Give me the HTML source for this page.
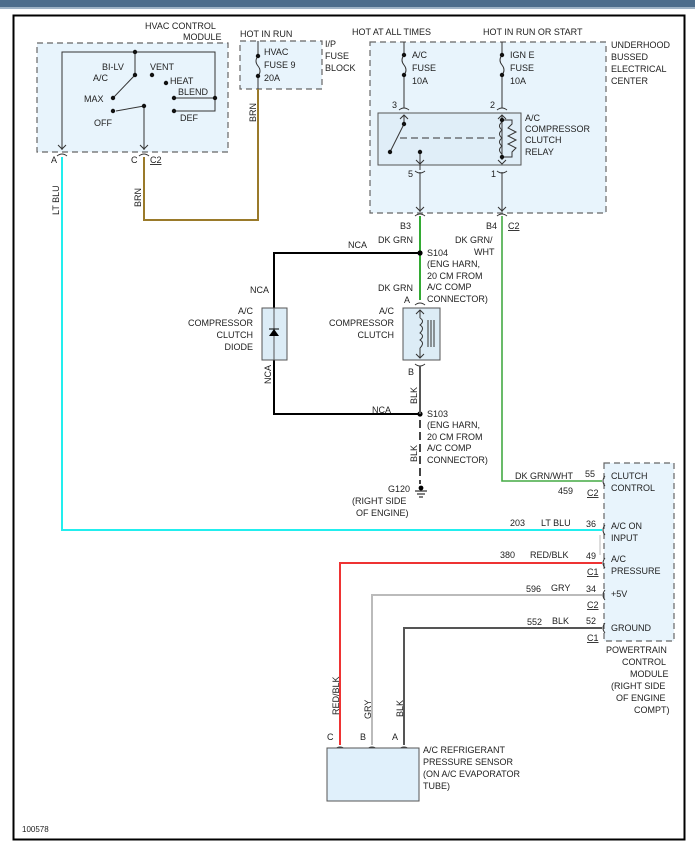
<!DOCTYPE html>
<html><head><style>
body{margin:0;background:#fff}
svg{display:block;font-family:"Liberation Sans",sans-serif;font-size:9px;fill:#222}
text{fill:#222}
</style></head><body>
<svg width="695" height="855" viewBox="0 0 695 855" xmlns="http://www.w3.org/2000/svg">
<rect x="0" y="0" width="695" height="7" fill="#4d6d8c"/>
<rect x="0" y="7" width="695" height="2" fill="#9fb3c6"/>
<rect x="13.5" y="15.5" width="671" height="824" fill="none" stroke="#000" stroke-width="2"/>
<g stroke-dasharray="6,4" stroke="#666" stroke-width="1.2" fill="#e8f4fc">
<rect x="37" y="43" width="191" height="109"/>
<rect x="240" y="41" width="82" height="48"/>
<rect x="370" y="42" width="236" height="171"/>
<rect x="604" y="463" width="70" height="178"/>
</g>
<g stroke="#333" stroke-width="1" fill="none">
<polyline points="62,150 62,52 215,52 215,111 174,111"/>
<line x1="174" y1="98" x2="215" y2="98"/>
<line x1="135" y1="52" x2="135" y2="75"/>
<line x1="135" y1="75" x2="113" y2="98"/>
<line x1="144" y1="106" x2="116" y2="111"/>
<line x1="144" y1="106" x2="144" y2="150"/>
<polyline points="58,145 62,149 66,145"/><polyline points="140,145 144,149 148,145"/>
<path d="M57,156 q5,-4 10,0 M139,156 q5,-4 10,0"/>
</g>
<g fill="#111"><circle cx="135" cy="52" r="2.2"/><circle cx="135" cy="75" r="2.2"/><circle cx="113" cy="98" r="2.2"/><circle cx="152" cy="75" r="2.2"/><circle cx="166" cy="83" r="2.2"/><circle cx="174" cy="98" r="2.2"/><circle cx="174" cy="111" r="2.2"/><circle cx="215" cy="98" r="2.2"/><circle cx="113" cy="111" r="2.2"/><circle cx="144" cy="106" r="2.2"/></g>
<text x="145" y="29">HVAC CONTROL</text><text x="183" y="40">MODULE</text>
<text x="102" y="70">BI-LV</text><text x="93" y="81">A/C</text><text x="84" y="102">MAX</text><text x="150" y="70">VENT</text><text x="170" y="84">HEAT</text><text x="178" y="95">BLEND</text><text x="180" y="121">DEF</text><text x="94" y="126">OFF</text>
<text x="51" y="163">A</text><text x="131" y="163">C</text><text x="150" y="163" text-decoration="underline">C2</text>
<polyline points="62,157 62,530 602,530" fill="none" stroke="#2ee" stroke-width="2"/>
<polyline points="144,157 144,220 258,220 258,89" fill="none" stroke="#9a7a2a" stroke-width="2"/>
<text transform="translate(59,215) rotate(-90)">LT BLU</text>
<text transform="translate(141,207) rotate(-90)">BRN</text>
<text transform="translate(256,122) rotate(-90)">BRN</text>
<g stroke="#333" fill="none"><line x1="258" y1="41" x2="258" y2="56"/><path d="M258,56 q-4,5 0,10 q4,5 0,10"/><line x1="258" y1="76" x2="258" y2="89"/></g>
<circle cx="258" cy="56" r="2.2" fill="#111"/><circle cx="258" cy="76" r="2.2" fill="#111"/>
<text x="240" y="37">HOT IN RUN</text><text x="264" y="55">HVAC</text><text x="264" y="68">FUSE 9</text><text x="264" y="81">20A</text>
<text x="325" y="47">I/P</text><text x="325" y="59">FUSE</text><text x="325" y="71">BLOCK</text>
<text x="352" y="35">HOT AT ALL TIMES</text><text x="483" y="35">HOT IN RUN OR START</text>
<text x="611" y="48">UNDERHOOD</text><text x="611" y="60">BUSSED</text><text x="611" y="72">ELECTRICAL</text><text x="611" y="84">CENTER</text>
<g stroke="#333" fill="none">
<line x1="404" y1="42" x2="404" y2="55"/><path d="M404,55 q-4,5 0,10 q4,5 0,10"/><line x1="404" y1="75" x2="404" y2="108"/>
<line x1="502" y1="42" x2="502" y2="55"/><path d="M502,55 q-4,5 0,10 q4,5 0,10"/><line x1="502" y1="75" x2="502" y2="108"/>
<path d="M399,110 q5,-4 10,0 M497,110 q5,-4 10,0"/>
</g>
<g fill="#111"><circle cx="404" cy="55" r="2.2"/><circle cx="404" cy="75" r="2.2"/><circle cx="502" cy="55" r="2.2"/><circle cx="502" cy="75" r="2.2"/></g>
<text x="412" y="58">A/C</text><text x="412" y="71">FUSE</text><text x="412" y="84">10A</text>
<text x="510" y="58">IGN E</text><text x="510" y="71">FUSE</text><text x="510" y="84">10A</text>
<text x="392" y="108">3</text><text x="490" y="108">2</text>
<rect x="378" y="113" width="143" height="52" fill="#e0eef8" stroke="#555"/>
<g stroke="#333" fill="none">
<polyline points="400,119 404,115 408,119"/><line x1="404" y1="115" x2="404" y2="124"/><line x1="404" y1="124" x2="390" y2="152"/>
<line x1="400" y1="138" x2="498" y2="138" stroke-dasharray="7,4"/>
<line x1="420" y1="152" x2="420" y2="170"/><polyline points="416,160 420,164 424,160"/>
<polyline points="498,119 502,115 506,119"/><line x1="502" y1="115" x2="502" y2="160"/>
<path d="M502,122 q-5,4 0,8 q-5,4 0,8 q-5,4 0,8 q-5,4 0,8"/>
<polyline points="502,120 512,120 512,124 508,128 516,132 508,136 516,140 508,144 516,148 512,152 512,157 502,157"/>
<polyline points="498,160 502,164 506,160"/>
<path d="M415,171 q5,4 10,0 M497,171 q5,4 10,0"/>
<line x1="420" y1="172" x2="420" y2="212"/><line x1="502" y1="172" x2="502" y2="212"/>
<polyline points="416,207 420,211 424,207"/><polyline points="498,207 502,211 506,207"/>
<path d="M415,216 q5,-4 10,0 M497,216 q5,-4 10,0"/>
</g>
<g fill="#111"><circle cx="404" cy="124" r="2.2"/><circle cx="390" cy="152" r="2.2"/><circle cx="420" cy="152" r="2.2"/><circle cx="502" cy="120" r="2.2"/><circle cx="502" cy="157" r="2.2"/></g>
<text x="525" y="121">A/C</text><text x="525" y="132">COMPRESSOR</text><text x="525" y="143">CLUTCH</text><text x="525" y="155">RELAY</text>
<text x="408" y="177">5</text><text x="491" y="177">1</text>
<text x="400" y="229">B3</text><text x="486" y="229">B4</text><text x="508" y="229" text-decoration="underline">C2</text>
<line x1="420" y1="216" x2="420" y2="300" stroke="#3a3" stroke-width="2"/>
<polyline points="502,216 502,481 602,481" fill="none" stroke="#4a4" stroke-width="1.6"/>
<text x="378" y="243">DK GRN</text><text x="455" y="243">DK GRN/</text><text x="474" y="255">WHT</text>
<polyline points="420,253 274,253 274,414 420,414" fill="none" stroke="#000" stroke-width="2"/>
<circle cx="420" cy="253" r="2.6" fill="#000"/><circle cx="420" cy="414" r="2.6" fill="#000"/>
<rect x="262" y="308" width="25" height="52" fill="#dcecf6" stroke="#555"/>
<line x1="274" y1="308" x2="274" y2="360" stroke="#555"/>
<polygon points="269,336 279,336 274,329" fill="#000"/><line x1="269" y1="329" x2="279" y2="329" stroke="#000"/>
<text x="348" y="248">NCA</text><text x="250" y="293">NCA</text><text x="372" y="413">NCA</text>
<text transform="translate(271,384) rotate(-90)">NCA</text>
<text x="427" y="256">S104</text><text x="427" y="267">(ENG HARN,</text><text x="427" y="279">20 CM FROM</text><text x="427" y="290">A/C COMP</text><text x="427" y="302">CONNECTOR)</text>
<text x="378" y="291">DK GRN</text><text x="404" y="303">A</text>
<text x="253" y="314" text-anchor="end">A/C</text><text x="253" y="326" text-anchor="end">COMPRESSOR</text><text x="253" y="338" text-anchor="end">CLUTCH</text><text x="253" y="350" text-anchor="end">DIODE</text>
<text x="394" y="314" text-anchor="end">A/C</text><text x="394" y="326" text-anchor="end">COMPRESSOR</text><text x="394" y="338" text-anchor="end">CLUTCH</text>
<rect x="403" y="308" width="37" height="52" fill="#dcecf6" stroke="#555"/>
<g stroke="#333" fill="none">
<path d="M415,305 q5,-4 10,0 M415,364 q5,4 10,0"/>
<polyline points="416,314 420,310 424,314"/><polyline points="416,354 420,358 424,354"/>
<line x1="420" y1="310" x2="420" y2="318"/><line x1="420" y1="348" x2="420" y2="358"/>
<path d="M420,318 q5,3 0,7 q5,3 0,8 q5,3 0,7 q5,3 0,8"/>
<line x1="428" y1="320" x2="428" y2="347"/><line x1="431" y1="320" x2="431" y2="347"/><line x1="434" y1="320" x2="434" y2="347"/>
</g>
<line x1="420" y1="366" x2="420" y2="414" stroke="#555" stroke-width="2"/>
<line x1="420" y1="420" x2="420" y2="484" stroke="#444" stroke-width="2" stroke-dasharray="8,4"/>
<text x="408" y="375">B</text>
<text transform="translate(417,404) rotate(-90)">BLK</text>
<text transform="translate(417,462) rotate(-90)">BLK</text>
<text x="427" y="417">S103</text><text x="427" y="428">(ENG HARN,</text><text x="427" y="440">20 CM FROM</text><text x="427" y="451">A/C COMP</text><text x="427" y="463">CONNECTOR)</text>
<circle cx="421" cy="488" r="2.4" fill="#000"/><g stroke="#000"><line x1="415" y1="491" x2="427" y2="491"/><line x1="417" y1="494" x2="425" y2="494"/><line x1="419" y1="497" x2="423" y2="497"/></g>
<text x="388" y="492">G120</text><text x="352" y="504">(RIGHT SIDE</text><text x="356" y="516">OF ENGINE)</text>
<text x="515" y="479">DK GRN/WHT</text><text x="585" y="477">55</text><text x="558" y="494">459</text><text x="587" y="496" text-decoration="underline">C2</text>
<text x="611" y="479">CLUTCH</text><text x="611" y="491">CONTROL</text>
<text x="510" y="526">203</text><text x="541" y="526">LT BLU</text><text x="586" y="527">36</text>
<text x="611" y="529">A/C ON</text><text x="611" y="541">INPUT</text>
<line x1="600" y1="535" x2="600" y2="555" stroke="#bbb"/>
<polyline points="340,745 340,563 602,563" fill="none" stroke="#e33" stroke-width="2"/>
<polyline points="372,745 372,595 602,595" fill="none" stroke="#bbb" stroke-width="2"/>
<polyline points="404,745 404,628 602,628" fill="none" stroke="#555" stroke-width="2"/>
<text x="500" y="558">380</text><text x="530" y="558">RED/BLK</text><text x="586" y="559">49</text><text x="587" y="575" text-decoration="underline">C1</text>
<text x="611" y="562">A/C</text><text x="611" y="574">PRESSURE</text>
<text x="526" y="592">596</text><text x="551" y="591">GRY</text><text x="586" y="592">34</text><text x="587" y="608" text-decoration="underline">C2</text><text x="611" y="597">+5V</text>
<text x="527" y="625">552</text><text x="552" y="624">BLK</text><text x="586" y="624">52</text><text x="587" y="641" text-decoration="underline">C1</text><text x="611" y="631">GROUND</text>
<g stroke="#333" fill="none"><path d="M605,476 q-4,5 0,10 M605,525 q-4,5 0,10 M605,558 q-4,5 0,10 M605,590 q-4,5 0,10 M605,623 q-4,5 0,10"/></g>
<text x="606" y="653">POWERTRAIN</text><text x="622" y="665">CONTROL</text><text x="630" y="677">MODULE</text><text x="611" y="689">(RIGHT SIDE</text><text x="616" y="701">OF ENGINE</text><text x="634" y="713">COMPT)</text>
<text transform="translate(339,715) rotate(-90)">RED/BLK</text>
<text transform="translate(371,719) rotate(-90)">GRY</text>
<text transform="translate(403,717) rotate(-90)">BLK</text>
<text x="327" y="740">C</text><text x="360" y="740">B</text><text x="392" y="740">A</text>
<g stroke="#333" fill="none"><path d="M335,749 q5,-4 10,0 M367,749 q5,-4 10,0 M399,749 q5,-4 10,0"/></g>
<rect x="327" y="748" width="92" height="53" fill="#e0f0fb" stroke="#555"/>
<text x="423" y="753">A/C REFRIGERANT</text><text x="423" y="765">PRESSURE SENSOR</text><text x="423" y="777">(ON A/C EVAPORATOR</text><text x="423" y="789">TUBE)</text>
<text x="22" y="832" font-size="8">100578</text>
</svg>
</body></html>
